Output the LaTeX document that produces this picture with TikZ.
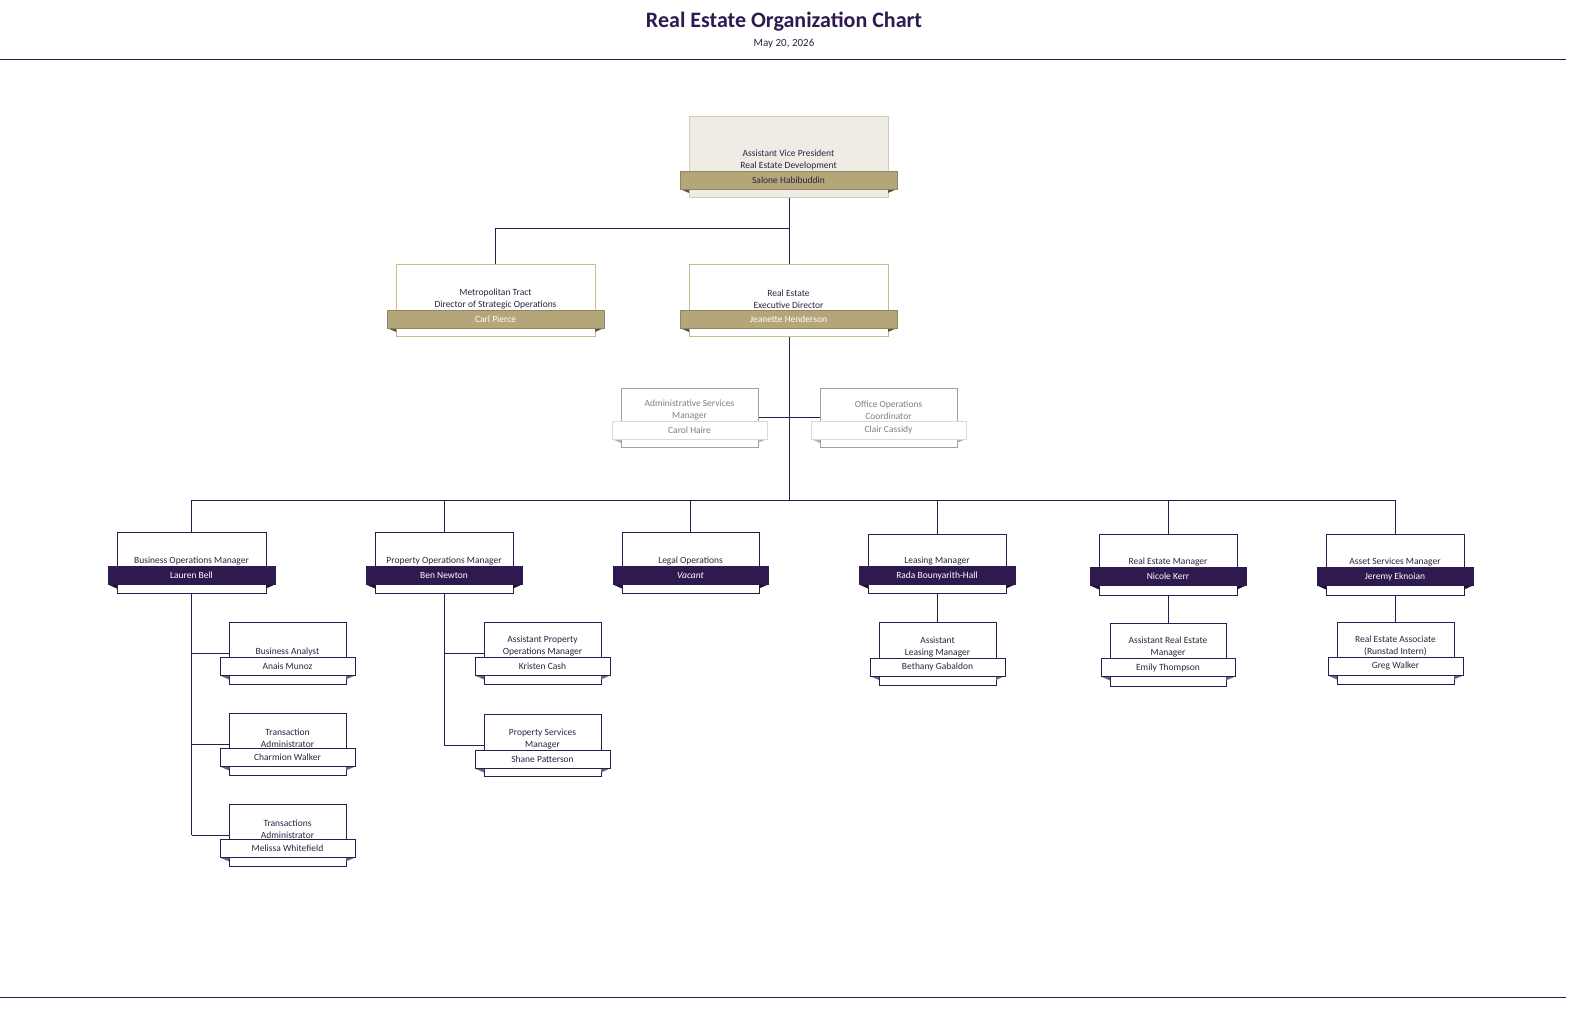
\documentclass[tikz,border=0pt]{standalone}
\usepackage{fontspec}
\setmainfont{Carlito}
\begin{document}
\definecolor{navy}{HTML}{2E1A4F}
\definecolor{gold}{HTML}{B5A67A}
\definecolor{goldl}{HTML}{C9BC8C}
\definecolor{cream}{HTML}{EEECE4}
\definecolor{txt}{HTML}{2B2440}
\definecolor{grayb}{HTML}{A0A0A0}
\tikzset{
  g box/.style={draw=goldl!70!gray!60, fill=cream},
  g ban/.style={fill=gold, draw=gold!80!black, text=txt},
  g fold/.style={fill=gold!50!black},
  g title/.style={text=txt},
  w box/.style={draw=goldl, fill=white},
  w ban/.style={fill=gold, draw=gold!80!black, text=white},
  w fold/.style={fill=gold!50!black},
  w title/.style={text=txt},
  p box/.style={draw=navy, fill=white},
  p ban/.style={fill=navy, draw=navy, text=white},
  p fold/.style={fill=navy!60!black},
  p title/.style={text=txt},
  s box/.style={draw=navy, fill=white},
  s ban/.style={fill=white, draw=navy, text=txt},
  s fold/.style={fill=navy!70},
  s title/.style={text=txt},
  l box/.style={draw=grayb, fill=white},
  l ban/.style={fill=white, draw=gray!30, text=gray},
  l fold/.style={fill=gray!60},
  l title/.style={text=gray},
  conn/.style={draw=navy, line width=0.9pt},
  lbl/.style={font=\fontsize{9.5}{12}\selectfont, align=center, inner sep=0pt}
}
\newcommand\card[9]{%
  \pgfmathsetmacro\cx{(#2+#3)/2}\pgfmathsetmacro\cy{(#4+#5)/2}%
  \pgfmathsetmacro\ww{#3-#2}\pgfmathsetmacro\hh{#5-#4}%
  \node[#7 box, minimum width=\ww pt, minimum height=\hh pt, inner sep=0pt, line width=0.8pt] (#1) at (\cx,\cy) {};
  \fill[#7 fold] (#2-9,#6+9) -- (#2,#6+9) -- (#2,#6+13) -- cycle;
  \fill[#7 fold] (#3+9,#6+9) -- (#3,#6+9) -- (#3,#6+13) -- cycle;
  \node[#7 ban, minimum width=\ww pt+18pt, minimum height=18pt, inner sep=0pt, line width=0.6pt, lbl] (#1-b) at (\cx,#6) {#9};
  \node[lbl, #7 title, anchor=south] (#1-t) at (\cx,#6-10) {#8};
}
\begin{tikzpicture}[x=1pt,y=-1pt]
\useasboundingbox (0,0) rectangle (1586,1011);
\node[text=navy, font=\bfseries\fontsize{22}{24}\selectfont] (title) at (784,22) {Real Estate Organization Chart};
\node[text=txt, font=\fontsize{11}{13}\selectfont] (date) at (784,44) {May 20, 2026};
\draw[navy, line width=1pt] (0,60) -- (1566,60);
\draw[navy, line width=1pt] (0,997) -- (1566,997);
% connectors
\coordinate (j1) at (789,228);
\coordinate (j2) at (789,500);
\draw[conn] (789,197) -- (789,264);
\draw[conn] (j1) -| (495.5,264);
\draw[conn] (789,336) -- (j2);
\draw[conn] (758,417) -- (820,417);
\draw[conn] (192,500) -- (1395,500);
\foreach \x/\t in {191.5/532,444/532,690.5/532,937/534,1168/534,1395/534} \draw[conn] (\x,500) -- (\x,\t);
\draw[conn] (191.5,593) -- (191.5,835);
\foreach \y in {653,744,835} \draw[conn] (191.5,\y) -- (229,\y);
\draw[conn] (444,593) -- (444,745);
\foreach \y in {653,745} \draw[conn] (444,\y) -- (484,\y);
\draw[conn] (937,593) -- (937,622);
\draw[conn] (1168,595) -- (1168,623);
\draw[conn] (1395,593) -- (1395,622);
% cards
\card{avp}{689}{888}{116}{197}{180}{g}{Assistant Vice President\\Real Estate Development}{Salone Habibuddin}
\card{mt}{396}{595}{264}{336}{319}{w}{Metropolitan Tract\\Director of Strategic Operations}{Carl Pierce}
\card{red}{689}{888}{264}{336}{319}{w}{Real Estate\\Executive Director}{Jeanette Henderson}
\card{asm}{621}{758}{388}{447}{430}{l}{Administrative Services\\Manager}{Carol Haire}
\card{ooc}{820}{957}{388}{447}{430}{l}{Office Operations\\Coordinator}{Clair Cassidy}
\card{bo}{117}{266}{532}{593}{575.5}{p}{Business Operations Manager}{Lauren Bell}
\card{po}{375}{513}{532}{593}{575.5}{p}{Property Operations Manager}{Ben Newton}
\card{lo}{622}{759}{532}{593}{575.5}{p}{Legal Operations}{\itshape Vacant}
\card{lm}{868}{1006}{534}{593}{575.5}{p}{Leasing Manager}{Rada Bounyarith-Hall}
\card{rem}{1099}{1237}{534}{595}{576.5}{p}{Real Estate Manager}{Nicole Kerr}
\card{asv}{1326}{1464}{534}{595}{576.5}{p}{Asset Services Manager}{Jeremy Eknoian}
\card{ba}{229}{346}{622}{684}{666.5}{s}{Business Analyst}{Anais Munoz}
\card{ta}{229}{346}{713}{775}{757.5}{s}{Transaction\\Administrator}{Charmion Walker}
\card{tsa}{229}{346}{804}{866}{848.5}{s}{Transactions\\Administrator}{Melissa Whitefield}
\card{apo}{484}{601}{622}{684}{666.5}{s}{Assistant Property\\Operations Manager}{Kristen Cash}
\card{psm}{484}{601}{714}{776}{759.5}{s}{Property Services\\Manager}{Shane Patterson}
\card{alm}{879}{996}{622}{685}{667}{s}{Assistant\\Leasing Manager}{Bethany Gabaldon}
\card{arem}{1110}{1226}{623}{686}{667.5}{s}{Assistant Real Estate\\Manager}{Emily Thompson}
\card{rea}{1337}{1454}{622}{684}{666.5}{s}{Real Estate Associate\\(Runstad Intern)}{Greg Walker}
\end{tikzpicture}
\end{document}
